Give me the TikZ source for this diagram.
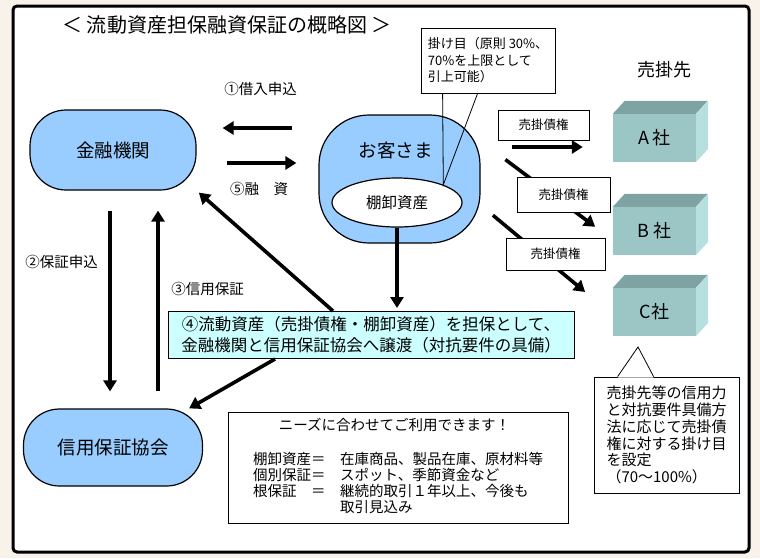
\documentclass[tikz,border=0pt]{standalone}
\usepackage{fontspec}
\setmainfont{Noto Sans CJK JP}
\usetikzlibrary{shapes.geometric,arrows.meta}
\definecolor{haikei}{HTML}{F9F2EA}
\definecolor{sora}{HTML}{99CCFF}
\definecolor{mizu}{HTML}{CCFFFF}
\definecolor{kaiF}{HTML}{9CC6C6}
\definecolor{kaiT}{HTML}{7FA2A2}
\definecolor{kaiS}{HTML}{B7DFDF}

\begin{document}
\begin{tikzpicture}[x=1pt, y=-1pt, auto,
  line/.style={draw, line width=3.6pt, -{Triangle[length=11pt,width=13pt]}},
  pill/.style={rectangle, draw=black, line width=1.2pt, fill=sora, rounded corners=36pt, text centered, font=\fontsize{18.5}{22}\selectfont},
  memo/.style={rectangle, draw=black, line width=0.8pt, fill=white, align=left, inner sep=0pt},
  tag/.style={rectangle, draw=black, line width=0.8pt, fill=white, text centered, font=\fontsize{12.5}{15}\selectfont},
  kaisha/.style={rectangle, fill=kaiF, minimum width=83pt, minimum height=48pt, text centered, font=\fontsize{18}{22}\selectfont},
  lbl/.style={font=\fontsize{14.5}{17}\selectfont}]
\useasboundingbox[fill=haikei] (0,0) rectangle (760,558);
\draw[line width=3pt, fill=white, rounded corners=4pt] (13,6) rectangle (749,552);

\node [font=\fontsize{20}{24}\selectfont] (TTL) at (227,25) {＜ 流動資産担保融資保証の概略図 ＞};

% main parties
\node [pill, minimum width=166pt, minimum height=80pt] (FI) at (113,150) {金融機関};
\node [pill, minimum width=179pt, minimum height=77pt] (CGC) at (113,447.5) {信用保証協会};
\node [pill, rounded corners=50pt, minimum width=161pt, minimum height=128pt] (CU) at (399.5,179) {};
\node [font=\fontsize{18.5}{22}\selectfont] (CUL) at ([xshift=-4pt, yshift=29pt]CU.center) {お客さま};
\node [ellipse, draw=black, line width=1.2pt, fill=white, minimum width=130pt, minimum height=49pt, inner sep=0pt, font=\fontsize{15.5}{18}\selectfont] (INV) at (397,202.5) {棚卸資産};

% callout on the margin
\node [memo, minimum width=134pt, minimum height=65pt, font=\fontsize{13}{16.5}\selectfont] (KM) at (488,60.5) {掛け目（原則 30\%、\\70\%を上限として\\引上可能）};
\draw [line width=0.8pt] ([xshift=22pt]KM.south west) -- (INV.21) -- ([xshift=57pt]KM.south west);

\node [rectangle, draw=black, line width=1pt, fill=mizu, minimum width=406pt, minimum height=47pt, align=center, font=\fontsize{16.5}{21}\selectfont] (ASG) at (371,335) {④流動資産（売掛債権・棚卸資産）を担保として、\\金融機関と信用保証協会へ譲渡（対抗要件の具備）};

% debtors
\node [font=\fontsize{18}{22}\selectfont] (UKS) at (664,70) {売掛先};
\node [kaisha] (CA) at (654.5,138) {A 社};
\node [kaisha] (CB) at (654.5,231) {B 社};
\node [kaisha] (CC) at (654.5,312) {C社};
\foreach \c in {CA,CB,CC} {
  \fill [kaiT] (\c.north west) -- ++(12,-13) -- ++(83,0) -- ++(-12,13) -- cycle;
  \fill [kaiS] (\c.north east) -- ++(12,-13) -- ++(0,48) -- ++(-12,13) -- cycle;
}

\begin{scope}[every path/.style=line]
  \path [shorten <=26pt, shorten >=26pt] ([yshift=51pt]CU.west) -- ([yshift=22pt]FI.east);
  \path [shorten <=30pt, shorten >=22pt] ([yshift=-13pt]FI.east) -- ([yshift=16pt]CU.west);
  \path [shorten <=20pt, shorten >=17pt] ([xshift=-3pt]FI.south) -- ([xshift=-3pt]CGC.north);
  \path [shorten <=17pt, shorten >=20pt] ([xshift=45pt]CGC.north) -- ([xshift=45pt]FI.south);
  \path [shorten >=3pt] (INV.south) -- (INV.south |- ASG.north);
  \path [shorten >=3pt] ([xshift=-38pt]ASG.north) -- (FI.south east);
  \path ([xshift=-96pt]ASG.south) -- ([xshift=-14pt]CGC.north east);
  \path [shorten <=31pt, shorten >=30pt] ([yshift=32pt]CU.east) -- ([yshift=-9pt]CA.west);
  \path [shorten <=31pt, shorten >=22pt] ([yshift=38pt]CU.east) -- ([yshift=-9pt]CB.west);
  \path [shorten <=16pt, shorten >=36pt] ([yshift=-26pt]CU.east) -- ([yshift=-3pt]CC.west);
\end{scope}

\node [tag, minimum width=91pt, minimum height=30pt] (T1) at (543.5,125) {売掛債権};
\node [tag, minimum width=93pt, minimum height=35pt] (T2) at (563.5,194.5) {売掛債権};
\node [tag, minimum width=99pt, minimum height=32pt] (T3) at (555.5,254) {売掛債権};

\node [lbl] (L1) at (260.5,89) {①借入申込};
\node [lbl] (L5) at (259,189) {⑤融　資};
\node [lbl] (L2) at (61.5,262) {②保証申込};
\node [lbl] (L3) at (207.5,289) {③信用保証};

% callout under C
\coordinate (CTIP) at (638,347);
\node [memo, minimum width=145pt, minimum height=116pt, font=\fontsize{15}{16.8}\selectfont] (CCO) at (666.5,435) {売掛先等の信用力\\と対抗要件具備方\\法に応じて売掛債\\権に対する掛け目\\を設定\\（70〜100\%）};
\fill [white] ([xshift=24pt, yshift=-1pt]CCO.north west) -- (CTIP) -- ([xshift=60pt, yshift=-1pt]CCO.north west) -- cycle;
\draw [line width=0.8pt] ([xshift=24pt]CCO.north west) -- (CTIP) -- ([xshift=60pt]CCO.north west);

% needs box
\node [memo, minimum width=340pt, minimum height=111pt] (NDS) at (398,467.5) {};
\node [font=\fontsize{14.5}{17}\selectfont] (NDST) at (394.5,425) {ニーズに合わせてご利用できます！};
\node [font=\fontsize{14.5}{16}\selectfont, align=left, anchor=north west, inner sep=0pt] (NDSL) at (253,452) {棚卸資産＝　在庫商品、製品在庫、原材料等\\個別保証＝　スポット、季節資金など\\根保証　＝　継続的取引１年以上、今後も\\　　　　　　取引見込み};
\end{tikzpicture}
\end{document}
